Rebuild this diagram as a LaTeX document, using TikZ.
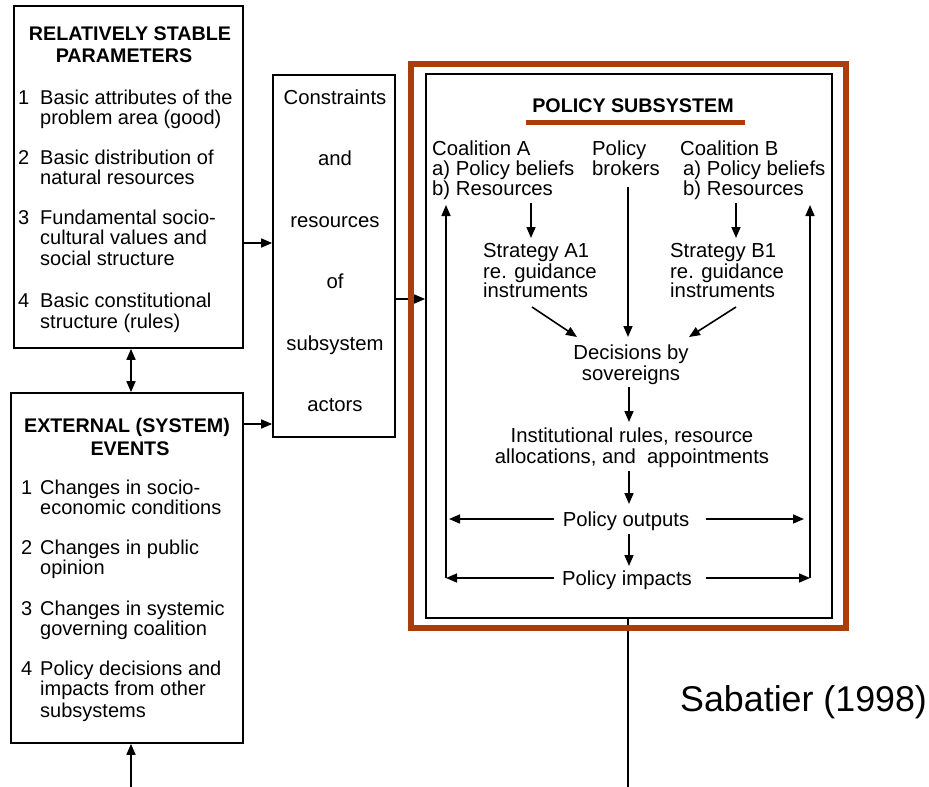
\documentclass[tikz,border=0pt]{standalone}
\usepackage{fontspec}
\setmainfont{Liberation Sans}
\usetikzlibrary{arrows.meta}
\definecolor{rust}{RGB}{172,60,8}
\newcommand\LW[4][tx]{\node[#1,anchor=base west] at (#2,#3) {#4};}
\newcommand\LC[4][tx]{\node[#1,anchor=base] at (#2,#3) {#4};}
\begin{document}
\begin{tikzpicture}[x=1pt,y=-1pt,
 box/.style={draw, line width=1.7pt, inner sep=0pt},
 arr/.style={line width=1.6pt, -{Triangle[length=11pt,width=9pt]}},
 darr/.style={line width=1.6pt, {Triangle[length=11pt,width=9pt]}-{Triangle[length=11pt,width=9pt]}},
 tx/.style={inner sep=0pt, font=\fontsize{20}{22}\selectfont},
 it/.style={inner sep=0pt, font=\fontsize{20.3}{22}\selectfont},
 hd/.style={inner sep=0pt, font=\bfseries\fontsize{19.7}{21}\selectfont},
 cite/.style={inner sep=0pt, font=\fontsize{35.8}{38}\selectfont},
]
\useasboundingbox (0,0) rectangle (929,787);
\fill[white] (0,0) rectangle (929,787);

% ---------- boxes ----------
\node[box, minimum width=229pt, minimum height=342pt] (rsp) at (128.5,177) {};
\node[box, minimum width=232pt, minimum height=350pt] (ev) at (127,568) {};
\node[box, minimum width=122pt, minimum height=362pt] (cons) at (334,256) {};
\node[box, minimum width=406pt, minimum height=544pt] (inner) at (629,346) {};

% ---------- relatively stable parameters ----------
\LC[hd]{130}{40}{RELATIVELY STABLE}
\LC[hd]{124}{62}{PARAMETERS}
\LW{18}{104}{1}\LW{40}{104}{Basic attributes of the}
\LW{40}{124}{problem area (good)}
\LW{18}{164}{2}\LW{40}{164}{Basic distribution of}
\LW{40}{184}{natural resources}
\LW{18}{224}{3}\LW{40}{224}{Fundamental socio-}
\LW{40}{244}{cultural values and}
\LW{40}{265}{social structure}
\LW{18}{307}{4}\LW{40}{307}{Basic constitutional}
\LW{40}{328}{structure (rules)}

% ---------- external events ----------
\LC[hd]{127}{432}{EXTERNAL (SYSTEM)}
\LC[hd]{130}{455}{EVENTS}
\LW{21}{494}{1}\LW{40}{494}{Changes in socio-}
\LW{40}{514}{economic conditions}
\LW{21}{554}{2}\LW{40}{554}{Changes in public}
\LW{40}{574}{opinion}
\LW{21}{615}{3}\LW{40}{615}{Changes in systemic}
\LW{40}{635}{governing coalition}
\LW{21}{675}{4}\LW{40}{675}{Policy decisions and}
\LW{40}{695}{impacts from other}
\LW{40}{717}{subsystems}

% ---------- constraints ----------
\LC[it]{335}{104}{Constraints}
\LC[it]{335}{165}{and}
\LC[it]{335}{227}{resources}
\LC[it]{335}{288}{of}
\LC[it]{335}{350}{subsystem}
\LC[it]{335}{411}{actors}

% ---------- outer connectors ----------
\draw[arr] (rsp.east |- 0,243) -- (cons.west |- 0,243);
\draw[arr] (ev.east |- 0,424) -- (cons.west |- 0,424);
\draw[darr] (rsp.south -| 131,0) -- (ev.north -| 131,0);
\coordinate (evin) at (131,787);
\draw[arr] (evin) -- (evin |- ev.south);
\draw[arr] (cons.east |- 0,299) -- (inner.west |- 0,299);
\coordinate (down) at (628,787);
\draw[line width=1.6pt] (inner.south -| down) -- (down);

% ---------- policy subsystem ----------
\LC[hd]{633}{112}{POLICY SUBSYSTEM}
\draw[rust, line width=5pt] (526,122) -- (745,122);

\LW[it]{432}{155}{Coalition A}
\LW[it]{432}{175}{a) Policy beliefs}
\LW[it]{432}{195}{b) Resources}
\LW[it]{592}{155}{Policy}
\LW[it]{592}{175}{brokers}
\LW[it]{680}{155}{Coalition B}
\LW[it]{683}{175}{a) Policy beliefs}
\LW[it]{683}{195}{b) Resources}
\LW[it]{483}{257}{Strategy A1}
\LW[it]{483}{278}{re. guidance}
\LW[it]{483}{297}{instruments}
\LW[it]{670}{257}{Strategy B1}
\LW[it]{670}{278}{re. guidance}
\LW[it]{670}{297}{instruments}
\LC[it]{631}{359}{Decisions by}
\LC[it]{631}{380}{sovereigns}
\LC[it]{632}{442}{Institutional rules, resource}
\LC[it]{632}{463}{allocations, and\ \ appointments}
\LC[it]{626}{526}{Policy outputs}
\LC[it]{627}{585}{Policy impacts}

\coordinate (aTop) at (531,203); \coordinate (aBot) at (531,238);
\coordinate (bTop) at (736,203); \coordinate (bBot) at (736,238);
\coordinate (pbTop) at (628,187); \coordinate (pbBot) at (628,337);
\coordinate (a1s) at (532,307); \coordinate (a1e) at (577,337);
\coordinate (b1s) at (736,307); \coordinate (b1e) at (689,337);
\coordinate (dS) at (629,387); \coordinate (dE) at (629,422);
\coordinate (iS) at (629,471); \coordinate (iE) at (629,504);
\coordinate (oS) at (629,534); \coordinate (oE) at (629,566);
\coordinate (oL1) at (554,519); \coordinate (oL2) at (449,519);
\coordinate (oR1) at (706,519); \coordinate (oR2) at (804,519);
\coordinate (pL1) at (554,578); \coordinate (cL) at (446,578); \coordinate (tL) at (446,205);
\coordinate (pR1) at (706,578); \coordinate (cR) at (810,578); \coordinate (tR) at (810,205);

\draw[arr] (aTop) -- (aBot);
\draw[arr] (bTop) -- (bBot);
\draw[arr] (pbTop) -- (pbBot);
\draw[arr] (a1s) -- (a1e);
\draw[arr] (b1s) -- (b1e);
\draw[arr] (dS) -- (dE);
\draw[arr] (iS) -- (iE);
\draw[arr] (oS) -- (oE);
\draw[arr] (oL1) -- (oL2);
\draw[arr] (oR1) -- (oR2);
\draw[arr] (pL1) -- (cL);
\draw[arr] (cL) -- (tL);
\draw[arr] (pR1) -- (cR);
\draw[arr] (cR) -- (tR);

% ---------- orange frame ----------
\node[draw=rust, line width=6pt, minimum width=435pt, minimum height=564pt, inner sep=0pt] (frame) at (628.5,346) {};

\LW[cite]{680}{711}{Sabatier (1998)}
\end{tikzpicture}
\end{document}
